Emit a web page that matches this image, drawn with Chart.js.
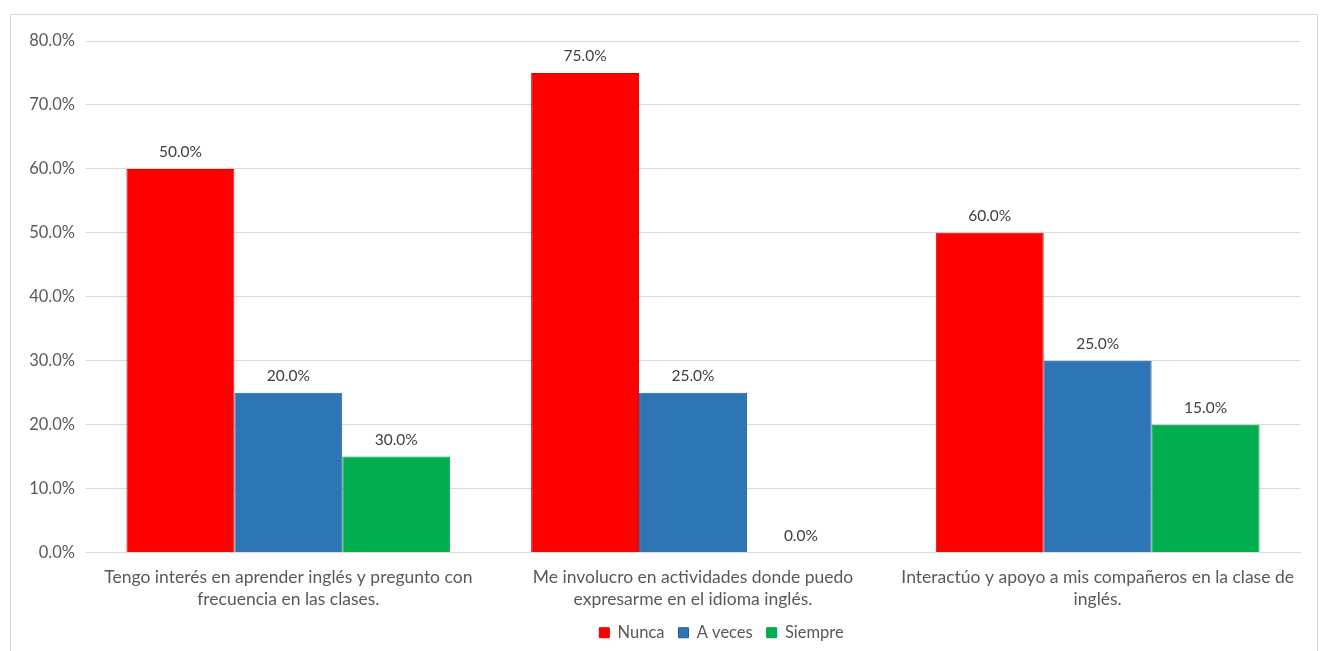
<!DOCTYPE html>
<html>
<head>
<meta charset="utf-8">
<script src="https://cdn.jsdelivr.net/npm/chart.js@4.4.0/dist/chart.umd.min.js"></script>
<style>
  body { margin: 0; background: #fff; }
  #wrap { position: absolute; left: 10px; top: 14px; width: 1306px; height: 636px; border: 1px solid #d9d9d9; border-bottom: none; }
</style>
</head>
<body>
<div id="wrap"><canvas id="chart"></canvas></div>
<script>
// categories (two lines each)
const categories = [
  ['Tengo interés en aprender inglés y pregunto con', 'frecuencia en las clases.'],
  ['Me involucro en actividades donde puedo', 'expresarme en el idioma inglés.'],
  ['Interactúo y apoyo a mis compañeros en la clase de', 'inglés.']
];
const seriesNames = ['Nunca', 'A veces', 'Siempre'];

// bar heights as drawn
const nunca = [60, 75, 50];
const aVeces = [25, 25, 30];
const siempre = [15, 0, 20];

// data labels as printed above the bars
const nuncaLabels = ['50.0%', '75.0%', '60.0%'];
const aVecesLabels = ['20.0%', '25.0%', '25.0%'];
const siempreLabels = ['30.0%', '0.0%', '15.0%'];

const FONT = 'Lato, "Open Sans", sans-serif';

// draws the printed value above each bar
const valueLabels = {
  id: 'valueLabels',
  afterLayout(chart) {
    // legend sits a bit right of centre in the original
    chart.legend.left += 66;
    chart.legend.right += 66;
  },
  afterDatasetsDraw(chart) {
    const ctx = chart.ctx;
    ctx.save();
    ctx.font = '15.5px ' + FONT;
    ctx.fillStyle = '#404040';
    ctx.textAlign = 'center';
    ctx.textBaseline = 'middle';
    chart.data.datasets.forEach((ds, i) => {
      chart.getDatasetMeta(i).data.forEach((bar, j) => {
        ctx.fillText(ds.printed[j], bar.x, bar.y - 17);
      });
    });
    ctx.restore();
  }
};

new Chart(document.getElementById('chart'), {
  type: 'bar',
  data: {
    labels: categories,
    datasets: [
      { label: seriesNames[0], data: nunca, printed: nuncaLabels, backgroundColor: '#ff0000', borderColor: '#e00000', borderWidth: 1 },
      { label: seriesNames[1], data: aVeces, printed: aVecesLabels, backgroundColor: '#2e75b6', borderColor: '#1f5c99', borderWidth: 1 },
      { label: seriesNames[2], data: siempre, printed: siempreLabels, backgroundColor: '#00b050', borderColor: '#009a44', borderWidth: 1 }
    ]
  },
  options: {
    responsive: true,
    maintainAspectRatio: false,
    animation: false,
    layout: { padding: { top: 26, right: 17, left: 0, bottom: 0 } },
    datasets: { bar: { categoryPercentage: 0.8, barPercentage: 1.0 } },
    scales: {
      x: {
        grid: { display: false },
        border: { color: '#d9d9d9' },
        ticks: { color: '#595959', font: { family: FONT, size: 17.5, lineHeight: 1.25 }, padding: 6, maxRotation: 0, autoSkip: false },
        afterFit(scale) { scale.height = 58; }
      },
      y: {
        min: 0,
        max: 80,
        ticks: { stepSize: 10, color: '#595959', font: { family: FONT, size: 16.5 }, padding: 11,
          callback: v => v.toFixed(1) + '%' },
        grid: { color: '#d9d9d9', drawTicks: false },
        border: { display: false },
        afterFit(scale) { scale.width = 75; }
      }
    },
    plugins: {
      legend: {
        position: 'bottom',
        labels: { color: '#595959', font: { family: FONT, size: 16.5 }, boxWidth: 10, boxHeight: 10, padding: 14 }
      },
      tooltip: { enabled: false }
    }
  },
  plugins: [valueLabels]
});
</script>
</body>
</html>
